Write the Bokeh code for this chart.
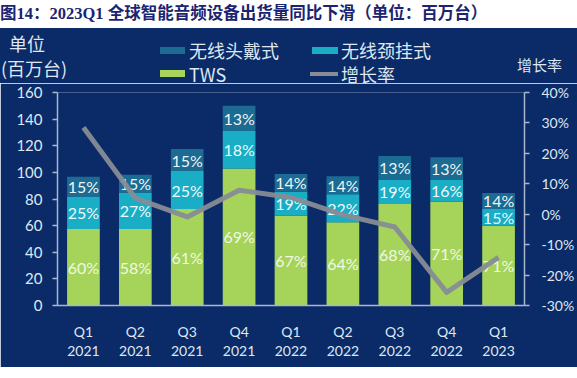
from bokeh.plotting import figure
from bokeh.models import (Range1d, LinearAxis, CategoricalAxis, FixedTicker, Div,
                          ColumnDataSource, FactorRange, CustomJSTickFormatter)
from bokeh.layouts import column
from bokeh.core.properties import value
from bokeh.embed import file_html
from bokeh.resources import INLINE

# ---------------- data ----------------
quarters = ["Q1 2021", "Q2 2021", "Q3 2021", "Q4 2021", "Q1 2022",
            "Q2 2022", "Q3 2022", "Q4 2022", "Q1 2023"]
tws = [57.5, 57.5, 72.5, 103.0, 67.5, 62.5, 76.3, 78.0, 60.0]      # TWS (百万台)
neck = [24.3, 27.3, 28.5, 28.0, 18.0, 21.0, 18.0, 16.3, 12.5]      # 无线颈挂式
head = [15.0, 13.5, 16.5, 19.0, 13.3, 13.5, 18.0, 17.0, 12.0]      # 无线头戴式
tws_pct = ["60%", "58%", "61%", "69%", "67%", "64%", "68%", "71%", "71%"]
neck_pct = ["25%", "27%", "25%", "18%", "19%", "22%", "19%", "16%", "15%"]
head_pct = ["15%", "15%", "15%", "13%", "14%", "14%", "13%", "13%", "14%"]
growth = [28.5, 5.3, -0.9, 7.9, 5.5, -0.2, -4.2, -25.7, -14.2]    # 增长率 (%)
left_ticks = [0, 20, 40, 60, 80, 100, 120, 140, 160]
right_ticks = [-30, -20, -10, 0, 10, 20, 30, 40]

title_text = "图14：2023Q1 全球智能音频设备出货量同比下滑（单位：百万台）"
legend_labels = ["无线头戴式", "无线颈挂式", "TWS", "增长率"]
unit_lines = ["单位", "(百万台)"]
right_title = "增长率"

# ---------------- style ----------------
BG = "#0b2b68"
C_TWS = "#a6d45a"
C_NECK = "#1aaec6"
C_HEAD = "#1c6b92"
C_LINE = "#878c96"
AX = "#a9b7cd"
TXT = "#dfe7f0"
NUM_FONT = "Lato"
CJK = "'Noto Sans CJK SC', sans-serif"
W = 577
HDR_H = 55

# ---------------- title strip (HTML) ----------------
title_html = (
    f'<div style="position:relative;width:{W}px;height:28px;background:#ffffff;overflow:hidden;">'
    f'<span style="position:absolute;left:0px;top:0px;line-height:28px;white-space:nowrap;'
    f'font-family:\'Liberation Serif\',\'Noto Sans CJK SC\',serif;font-weight:bold;font-size:16.5px;'
    f'color:#1b2470;">{title_text}</span></div>'
)
t = Div(text=title_html, width=W, height=28, margin=0)

# ---------------- header strip: units + legend (HTML) ----------------
def box(left, top, w, h, c):
    return (f'<div style="position:absolute;left:{left}px;top:{top}px;width:{w}px;'
            f'height:{h}px;background:{c};"></div>')

def txt(left, top, s, size=18):
    return (f'<span style="position:absolute;left:{left}px;top:{top}px;line-height:{size}px;'
            f'font-size:{size}px;font-family:{CJK};color:{TXT};white-space:nowrap;">{s}</span>')

header_html = (
    f'<div style="position:relative;width:{W}px;height:{HDR_H}px;background:{BG};">'
    + txt(9, 6, unit_lines[0])
    + txt(1, 31, unit_lines[1])
    + box(160, 19, 25, 7, C_HEAD) + txt(189, 13, legend_labels[0])
    + box(312, 19, 26, 7, C_NECK) + txt(341, 13, legend_labels[1])
    + box(160, 42, 25, 7, C_TWS) + txt(189, 37, legend_labels[2])
    + box(310, 44, 28, 4, C_LINE) + txt(341, 37, legend_labels[3])
    + txt(517, 29, right_title, 15)
    + '</div>'
)
h = Div(text=header_html, width=W, height=HDR_H, margin=0)

# ---------------- main chart ----------------
p = figure(x_range=FactorRange(*quarters, range_padding=0),
           y_range=Range1d(left_ticks[0], left_ticks[-1]), width=W, height=284,
           output_backend="svg", toolbar_location=None,
           min_border_left=57, min_border_right=50, min_border_top=9, min_border_bottom=62,
           background_fill_color=BG, border_fill_color=BG, outline_line_color=None)
p.extra_y_ranges = {"pct": Range1d(right_ticks[0], right_ticks[-1])}
p.xgrid.visible = False
p.ygrid.visible = False

src = ColumnDataSource(dict(q=quarters, tws=tws, neck=neck, head=head))
p.vbar_stack(["tws", "neck", "head"], x="q", width=0.63, source=src,
             fill_color=[C_TWS, C_NECK, C_HEAD], line_color=None)

tws_c = [a / 2 for a in tws]
neck_c = [a + b / 2 for a, b in zip(tws, neck)]
head_c = [a + b + c / 2 for a, b, c in zip(tws, neck, head)]
for ys, labels, alpha in [(tws_c, tws_pct, 0.85), (neck_c, neck_pct, 0.95), (head_c, head_pct, 0.95)]:
    p.text(x=quarters, y=ys, text=labels, text_align="center", text_baseline="middle",
           text_font=value(NUM_FONT), text_font_size="16px", text_color="#ffffff",
           text_alpha=alpha)

p.line(x=quarters, y=growth, y_range_name="pct", line_color=C_LINE, line_width=5,
       line_join="round", line_alpha=0.95)

ya = p.yaxis[0]
ya.ticker = FixedTicker(ticks=left_ticks)
ra = LinearAxis(y_range_name="pct", ticker=FixedTicker(ticks=right_ticks),
                major_label_overrides={v: f"{v}%" for v in right_ticks})
p.add_layout(ra, "right")

for ax in [ya, ra]:
    ax.axis_line_color = AX
    ax.axis_line_width = 1.5
    ax.major_tick_line_color = AX
    ax.major_tick_line_width = 1.5
    ax.major_tick_out = 5
    ax.major_tick_in = 0
    ax.minor_tick_line_color = None
    ax.major_label_text_color = TXT
    ax.major_label_text_font = NUM_FONT
ya.major_label_text_font_size = "15px"
ya.major_label_standoff = 10
ra.major_label_text_font_size = "14px"
ra.major_label_standoff = 12

# x axis: quarter row + year row
xa = p.xaxis[0]
xa.axis_line_color = AX
xa.axis_line_width = 1.5
xa.formatter = CustomJSTickFormatter(code="return tick.split(' ')[0];")
xa.major_label_standoff = 17
xa2 = CategoricalAxis(formatter=CustomJSTickFormatter(code="return tick.split(' ')[1];"),
                      axis_line_color=None, major_label_standoff=3)
p.add_layout(xa2, "below")
for ax in [xa, xa2]:
    ax.major_tick_line_color = None
    ax.major_tick_out = 0
    ax.major_tick_in = 0
    ax.minor_tick_line_color = None
    ax.major_label_text_color = TXT
    ax.major_label_text_font = NUM_FONT
    ax.major_label_text_font_size = "14px"

layout = column(t, h, p)
open("out.html", "w").write(file_html(layout, INLINE))
